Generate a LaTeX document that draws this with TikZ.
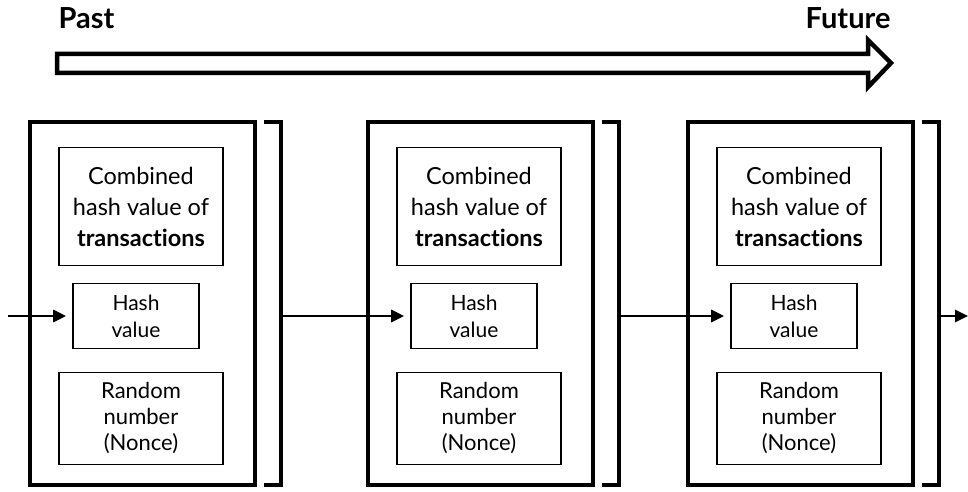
\documentclass[tikz,border=0pt]{standalone}
\usepackage{fontspec}
\setmainfont{Lato}[Ligatures=NoCommon]
\usepackage{tikz}
\usetikzlibrary{arrows.meta}
\usetikzlibrary{calc}

\begin{document}
\begin{tikzpicture}[x=1pt,y=-1pt,
  block/.style={draw,line width=4pt,minimum width=225pt,minimum height=363pt,inner sep=0pt},
  bracket/.style={line width=4pt},
  inbox/.style={draw,line width=1.6pt,align=center,inner sep=0pt},
  link/.style={line width=2.8pt,-{Triangle[length=13pt,width=12pt]}},
  timearrow/.style={line width=4.5pt,line join=miter},
  timelabel/.style={font=\bfseries\fontsize{29}{33}\selectfont}]

  \useasboundingbox (0,0) rectangle (968,492);

  % Time arrow on top
  \draw[timearrow] (57,54) -- (868,54) -- (868,40) -- (891,63) -- (868,87) -- (868,73) -- (57,73) -- cycle;
  \node[timelabel,anchor=base west] (past) at (55,29) {Past};
  \node[timelabel,anchor=base east] (future) at (894,29) {Future};

  % Blocks
  \foreach \x/\i in {30/1,368/2,688/3} {
    \node[block] (blk\i) at (\x+112.5,303.5) {};
    \node[inbox,minimum width=164pt,minimum height=118pt,font=\fontsize{23.5}{31}\selectfont] (comb\i) at (\x+111,206.5) {Combined\\hash value of\\\textbf{transactions}};
    \node[inbox,minimum width=126pt,minimum height=65pt,font=\fontsize{21}{27}\selectfont] (hash\i) at (\x+106,316) {Hash\\value};
    \node[inbox,minimum width=164pt,minimum height=92pt,font=\fontsize{22}{26}\selectfont] (rand\i) at (\x+111,418.5) {Random\\number\\(Nonce)};
    \draw[bracket] (\x+234,122) -- (\x+251,122) -- (\x+251,485) -- (\x+234,485);
    \coordinate (brk\i) at (\x+251,316);
  }

  % Links between the blocks
  \coordinate (start) at (8,316);
  \coordinate (stop) at (968,316);
  \draw[link,shorten >=6pt] (start) -- (hash1.west);
  \draw[link,shorten >=6pt] (brk1) -- (hash2.west);
  \draw[link,shorten >=6pt] (brk2) -- (hash3.west);
  \draw[link] (brk3) -- (stop);

\end{tikzpicture}
\end{document}
